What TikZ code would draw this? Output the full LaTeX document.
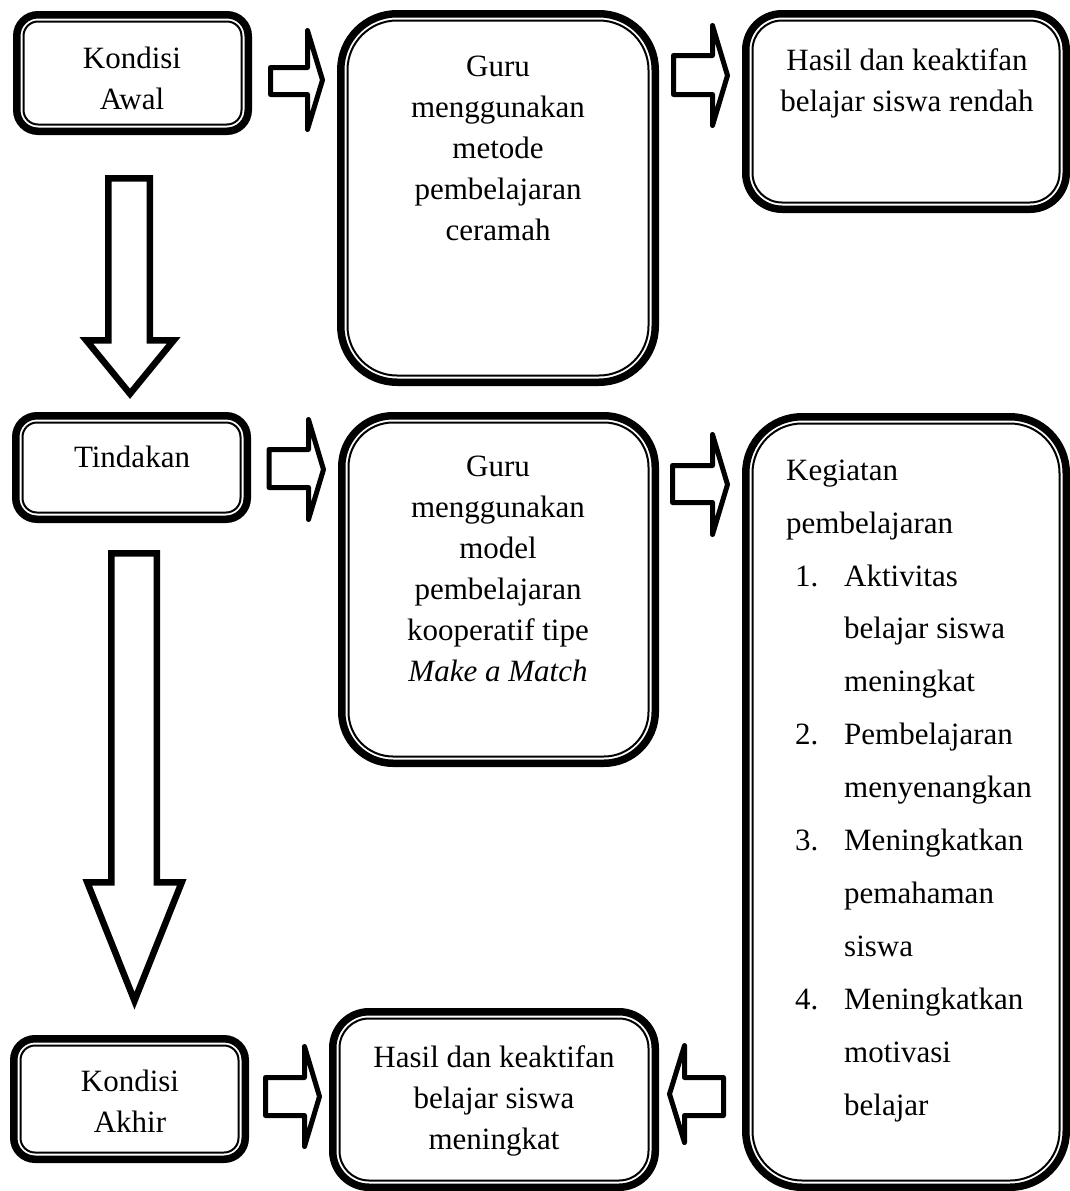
\documentclass[tikz,border=0pt]{standalone}
\usepackage{fontspec}
\setmainfont{Liberation Serif}
\newcommand{\dblbox}[5]{%
  \pgfmathsetmacro{\dbxa}{#1+3.75}\pgfmathsetmacro{\dbya}{#2+3.75}%
  \pgfmathsetmacro{\dbxb}{#3-3.75}\pgfmathsetmacro{\dbyb}{#4-3.75}%
  \pgfmathsetmacro{\dbra}{#5-3.75}%
  \draw[outerln, rounded corners=\dbra pt] (\dbxa,\dbya) rectangle (\dbxb,\dbyb);
  \pgfmathsetmacro{\dbxa}{#1+10.5}\pgfmathsetmacro{\dbya}{#2+10.5}%
  \pgfmathsetmacro{\dbxb}{#3-10.5}\pgfmathsetmacro{\dbyb}{#4-10.5}%
  \pgfmathsetmacro{\dbra}{#5-10.5}%
  \draw[innerln, rounded corners=\dbra pt] (\dbxa,\dbya) rectangle (\dbxb,\dbyb);
}
% right arrow: x0, head back, tip, head top, head bottom, shaft top, shaft bottom (outer)
\newcommand{\rarrow}[7]{%
  \draw[harrow] ({#1+2.5},{#6+2.5}) -- ({#2+2.5},{#6+2.5}) -- ({#2+2.5},{#4+2.5})
    -- ({#3-2.5},{(#4+#5)/2}) -- ({#2+2.5},{#5-2.5}) -- ({#2+2.5},{#7-2.5})
    -- ({#1+2.5},{#7-2.5}) -- cycle;
}
\newcommand{\larrow}[7]{%
  \draw[harrow] ({#1-2.5},{#6+2.5}) -- ({#2-2.5},{#6+2.5}) -- ({#2-2.5},{#4+2.5})
    -- ({#3+2.5},{(#4+#5)/2}) -- ({#2-2.5},{#5-2.5}) -- ({#2-2.5},{#7-2.5})
    -- ({#1-2.5},{#7-2.5}) -- cycle;
}
% down arrow: shaft left, shaft right, top, head back, head left, head right, tip (outer)
\newcommand{\darrow}[7]{%
  \draw[varrow] ({#1+3.25},{#3+3.25}) -- ({#2-3.25},{#3+3.25}) -- ({#2-3.25},{#4+3.25})
    -- ({#6-3.25},{#4+3.25}) -- ({(#5+#6)/2},{#7-3.25}) -- ({#5+3.25},{#4+3.25})
    -- ({#1+3.25},{#4+3.25}) -- cycle;
}
\begin{document}
\begin{tikzpicture}[x=1pt,y=-1pt,
  outerln/.style={draw=black, line width=7.5pt},
  innerln/.style={draw=black, line width=2pt},
  harrow/.style={draw=black, fill=white, line width=5pt, line join=round},
  varrow/.style={draw=black, fill=white, line width=6.5pt, line join=miter},
  txt/.style={font=\fontsize{31}{41}\selectfont, align=center, inner sep=0pt},
  listtxt/.style={font=\fontsize{31}{52.9}\selectfont, align=left, inner sep=0pt, anchor=north west}]
\useasboundingbox (0,0) rectangle (1070,1191);
\fill[white] (0,0) rectangle (1070,1191);

% boxes
\dblbox{13}{11}{252}{135}{25}
\dblbox{337}{10}{659}{386}{60}
\dblbox{742}{10}{1070}{213}{40}
\dblbox{12}{412}{251}{523}{25}
\dblbox{338}{412}{659}{767}{55}
\dblbox{742}{413}{1070}{1191}{60}
\dblbox{10}{1035}{249}{1163}{25}
\dblbox{329}{1008}{659}{1191}{40}

% texts
\node[txt] (t1) at (132,78) {Kondisi\\Awal};
\node[txt] (t2) at (498,148) {Guru\\menggunakan\\metode\\pembelajaran\\ceramah};
\node[txt] (t3) at (907,83) {Hasil dan keaktifan\\belajar siswa rendah};
\node[txt] (t4) at (132,456.5) {Tindakan};
\node[txt] (t5) at (498,568.5) {Guru\\menggunakan\\model\\pembelajaran\\kooperatif tipe\\\textit{Make a Match}};
\node[listtxt] (t6) at (786,459.5) {Kegiatan\\pembelajaran\\
\hspace*{9pt}\makebox[49pt][l]{1.}Aktivitas\\
\hspace*{58pt}belajar siswa\\
\hspace*{58pt}meningkat\\
\hspace*{9pt}\makebox[49pt][l]{2.}Pembelajaran\\
\hspace*{58pt}menyenangkan\\
\hspace*{9pt}\makebox[49pt][l]{3.}Meningkatkan\\
\hspace*{58pt}pemahaman\\
\hspace*{58pt}siswa\\
\hspace*{9pt}\makebox[49pt][l]{4.}Meningkatkan\\
\hspace*{58pt}motivasi\\
\hspace*{58pt}belajar};
\node[txt] (t7) at (130,1101) {Kondisi\\Akhir};
\node[txt] (t8) at (494,1100.5) {Hasil dan keaktifan\\belajar siswa\\meningkat};

% horizontal block arrows
\rarrow{268}{305}{325}{28}{132}{65}{97}
\rarrow{671}{710}{730}{23}{128}{53}{97}
\rarrow{266.5}{306}{326}{417}{522}{447}{490}
\rarrow{670}{710}{730}{432}{537}{463}{505}
\rarrow{263}{302}{322}{1044}{1149}{1075}{1118}
\larrow{726}{687}{667}{1043}{1145}{1075}{1118}

% vertical block arrows
\darrow{105}{153}{175}{337}{83}{177}{397}
\darrow{108}{160}{550}{879}{84}{185}{1004}
\end{tikzpicture}
\end{document}
